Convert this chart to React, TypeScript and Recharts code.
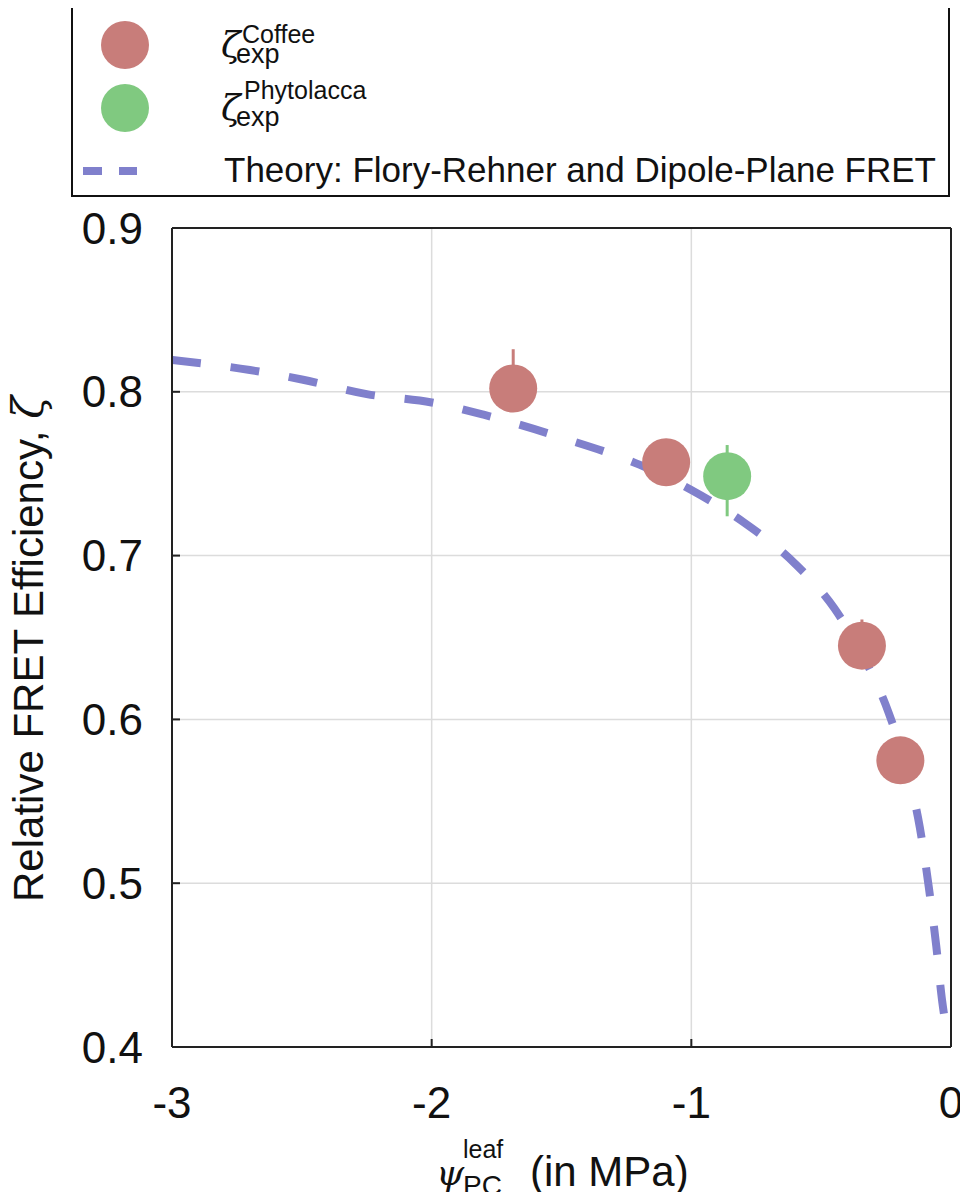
import React from 'react';
import { ComposedChart, Scatter, Line, XAxis, YAxis, CartesianGrid, ErrorBar } from 'recharts';

const FONT = '"Liberation Sans", Arial, sans-serif';
const MATH = '"DejaVu Serif", serif';

const COFFEE = '#c87d7a';
const PHYTO = '#80c980';
const THEORY = '#8080cc';

// measured FRET efficiency, coffee leaves
const coffeeX = [-1.686, -1.097, -0.343, -0.195];
const coffeeY = [0.802, 0.757, 0.645, 0.575];
const coffeeErrLow = [0.01, 0.008, 0.01, 0.008];
const coffeeErrHigh = [0.024, 0.008, 0.016, 0.008];

// measured FRET efficiency, Phytolacca
const phytoX = [-0.862];
const phytoY = [0.7485];
const phytoErrLow = [0.0245];
const phytoErrHigh = [0.019];

// Flory-Rehner + dipole-plane FRET prediction
const theoryX = [-3.0, -2.7, -2.5, -2.25, -2.0, -1.8, -1.5, -1.2, -1.0, -0.8, -0.6, -0.45, -0.33, -0.24, -0.17, -0.12, -0.085, -0.057, -0.034, -0.022];
const theoryY = [0.8194, 0.8133, 0.8075, 0.7986, 0.7935, 0.786, 0.772, 0.7555, 0.740, 0.7205, 0.695, 0.668, 0.636, 0.604, 0.569, 0.534, 0.497, 0.462, 0.428, 0.415];

const xTicks = [-3, -2, -1, 0];
const yTicks = [0.4, 0.5, 0.6, 0.7, 0.8, 0.9];

const coffee = coffeeX.map((x, i) => ({ x, y: coffeeY[i], err: [coffeeErrLow[i], coffeeErrHigh[i]] }));
const phyto = phytoX.map((x, i) => ({ x, y: phytoY[i], err: [phytoErrLow[i], phytoErrHigh[i]] }));
const theory = theoryX.map((x, i) => ({ x, y: theoryY[i] }));

const dot = (fill: string) => (props: any) => <circle cx={props.cx} cy={props.cy} r={24} fill={fill} />;

const axisLine = { stroke: '#222', strokeWidth: 2 };
const tickLine = { stroke: '#222', strokeWidth: 2 };
const tickFont = { fontSize: 44, fill: '#111', fontFamily: FONT };

const XLabel = () => (
  <g fill="#111">
    <text x={436} y={1185} fontFamily={MATH} fontStyle="italic" fontSize={36}>ψ</text>
    <text x={463} y={1158} fontFamily={FONT} fontSize={25}>leaf</text>
    <text x={463} y={1195} fontFamily={FONT} fontSize={28}>PC</text>
    <text x={530} y={1186} fontFamily={FONT} fontSize={42}>(in MPa)</text>
  </g>
);

const YLabel = () => (
  <text x={43} y={649} transform="rotate(-90, 43, 649)" textAnchor="middle" fill="#111" fontFamily={FONT} fontSize={42}>
    Relative FRET Efficiency, <tspan fontFamily={MATH} fontStyle="italic">ζ</tspan>
  </text>
);

// legend box, drawn over the chart in page pixels
function LegendBox() {
  return (
    <div
      style={{
        position: 'absolute',
        left: 71,
        top: 5,
        width: 879,
        height: 192,
        boxSizing: 'border-box',
        border: '2px solid #111',
        background: '#fff',
      }}
    >
      <svg width={875} height={188} style={{ display: 'block' }}>
        <circle cx={52} cy={38} r={24} fill={COFFEE} />
        <text x={148} y={50} fontFamily={MATH} fontStyle="italic" fontSize={36} fill="#111">ζ</text>
        <text x={169} y={36} fontFamily={FONT} fontSize={25} fill="#111">Coffee</text>
        <text x={163} y={56} fontFamily={FONT} fontSize={27} fill="#111">exp</text>
        <circle cx={52} cy={101} r={24} fill={PHYTO} />
        <text x={148} y={113} fontFamily={MATH} fontStyle="italic" fontSize={36} fill="#111">ζ</text>
        <text x={171} y={92} fontFamily={FONT} fontSize={25} fill="#111">Phytolacca</text>
        <text x={163} y={119} fontFamily={FONT} fontSize={27} fill="#111">exp</text>
        <line x1={10} y1={164} x2={64} y2={164} stroke={THEORY} strokeWidth={8} strokeDasharray="19 17" />
        <text x={151} y={175} fontFamily={FONT} fontSize={35} fill="#111">Theory: Flory-Rehner and Dipole-Plane FRET</text>
      </svg>
    </div>
  );
}

export default function App() {
  return (
    <div style={{ position: 'relative', width: 968, height: 1200, margin: -8, fontFamily: FONT }}>
      <ComposedChart width={968} height={1200} margin={{ top: 0, right: 0, bottom: 0, left: 0 }}>
        <CartesianGrid stroke="#dcdcdc" strokeWidth={1.5} />
        <XAxis
          dataKey="x"
          type="number"
          domain={[-3, 0]}
          ticks={xTicks}
          allowDataOverflow
          height={153}
          axisLine={axisLine}
          tickLine={tickLine}
          tickSize={-8}
          tickMargin={48}
          tick={tickFont}
          label={() => <XLabel />}
        />
        <XAxis
          xAxisId="top"
          orientation="top"
          type="number"
          domain={[-3, 0]}
          ticks={xTicks}
          allowDataOverflow
          height={228}
          axisLine={axisLine}
          tickLine={tickLine}
          tickSize={-8}
          tick={false}
        />
        <YAxis
          type="number"
          domain={[0.4, 0.9]}
          ticks={yTicks}
          allowDataOverflow
          width={172}
          axisLine={axisLine}
          tickLine={tickLine}
          tickSize={-8}
          tickMargin={37}
          tick={tickFont}
          tickFormatter={(v: number) => v.toFixed(1)}
          label={() => <YLabel />}
        />
        <YAxis
          yAxisId="right"
          orientation="right"
          type="number"
          domain={[0.4, 0.9]}
          ticks={yTicks}
          allowDataOverflow
          width={17}
          axisLine={axisLine}
          tickLine={tickLine}
          tickSize={-8}
          tick={false}
        />
        <Scatter data={coffee} dataKey="y" shape={dot(COFFEE)} isAnimationActive={false}>
          <ErrorBar dataKey="err" direction="y" width={0} stroke={COFFEE} strokeWidth={3} />
        </Scatter>
        <Scatter data={phyto} dataKey="y" shape={dot(PHYTO)} isAnimationActive={false}>
          <ErrorBar dataKey="err" direction="y" width={0} stroke={PHYTO} strokeWidth={3} />
        </Scatter>
        <Line
          data={theory}
          dataKey="y"
          type="monotone"
          stroke={THEORY}
          strokeWidth={8}
          strokeDasharray="29 30"
          dot={false}
          activeDot={false}
          isAnimationActive={false}
        />
      </ComposedChart>
      <LegendBox />
    </div>
  );
}
